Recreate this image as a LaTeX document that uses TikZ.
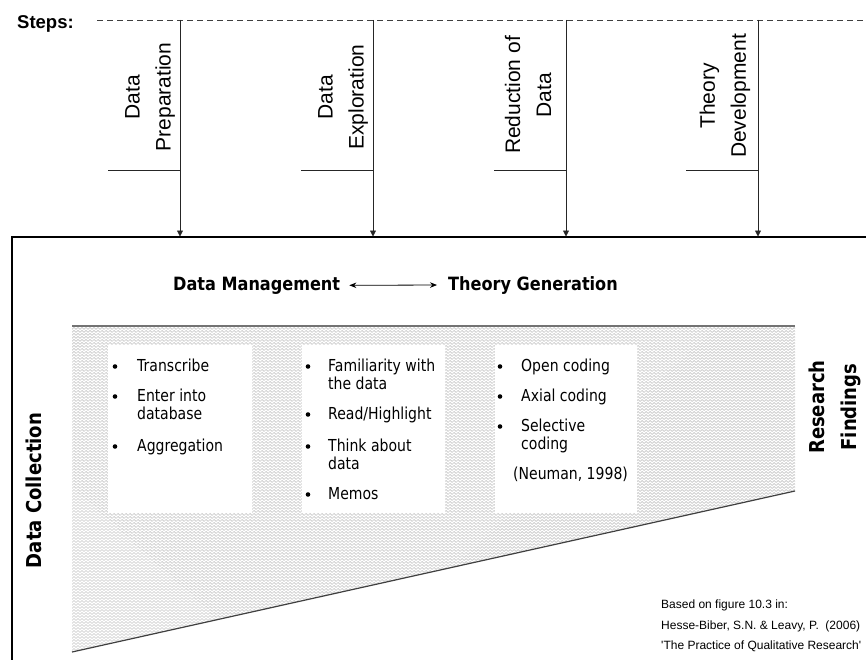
\documentclass[tikz,border=0pt]{standalone}
\usepackage{fontspec}
\newfontfamily\arialf{Liberation Sans}
\newfontfamily\tahf[FakeStretch=0.85]{DejaVu Sans}
\newfontfamily\tahbf[FakeStretch=0.88]{DejaVu Sans}
\usetikzlibrary{arrows.meta,patterns}
\pgfdeclarepatternformonly{zigzag}{\pgfpoint{-1pt}{-1pt}}{\pgfpoint{5pt}{4pt}}{\pgfpoint{4pt}{3pt}}{%
  \pgfsetlinewidth{0.7pt}%
  \pgfpathmoveto{\pgfpoint{0pt}{0.5pt}}%
  \pgfpathlineto{\pgfpoint{2pt}{2.5pt}}%
  \pgfpathlineto{\pgfpoint{4pt}{0.5pt}}%
  \pgfusepath{stroke}}
\begin{document}
\begin{tikzpicture}[x=1pt,y=-1pt,
  stepline/.style={draw=black!85, line width=0.8pt},
  arr/.style={-{Triangle[length=6pt,width=6pt]}},
  bul/.style={circle, fill=black, inner sep=0pt, minimum size=4.6pt},
  item/.style={anchor=base west, inner sep=0pt, font=\tahf\fontsize{16.5}{18}\selectfont},
  steplabel/.style={rotate=90, align=center, inner sep=0pt, font=\arialf\fontsize{21}{31}\selectfont},
  head/.style={anchor=base west, inner sep=0pt, font=\tahbf\bfseries\fontsize{18.3}{20}\selectfont},
  side/.style={rotate=90, align=center, inner sep=0pt, font=\tahbf\bfseries\fontsize{20.5}{32}\selectfont},
  credit/.style={anchor=base west, inner sep=0pt, font=\arialf\fontsize{12}{14}\selectfont},
  whitebox/.style={fill=white, draw=none}]
\useasboundingbox (0,0) rectangle (866,660);

% hatched wedge
\coordinate (h1) at (72,326);
\coordinate (h2) at (795,326);
\coordinate (h3) at (795,491);
\coordinate (h4) at (72,652);
\fill[pattern=zigzag, pattern color=black!22] (h1)--(h2)--(h3)--(h4)--cycle;
\draw[black!55, line width=1.2pt] (h1)--(h2);
\draw[black!75, line width=1.2pt] (h4)--(h3);

% white boxes
\path[whitebox] (108,345) rectangle (252,513);
\path[whitebox] (302,345) rectangle (445,513);
\path[whitebox] (495,345) rectangle (637,513);

% frame
\coordinate (f1) at (12,660);
\coordinate (f2) at (12,237);
\coordinate (f3) at (866,237);
\draw[line width=1.2pt] (f1)--(f2)--(f3);

% steps
\node[anchor=base west, inner sep=0pt, font=\arialf\bfseries\fontsize{18.5}{20}\selectfont] (steps) at (17,28.5) {Steps:};
\coordinate (d0) at (97,20);
\coordinate (d1) at (866,20);
\draw[black!75, line width=0.8pt, dash pattern=on 6pt off 4pt] (d0)--(d1);

\foreach \i/\x in {1/180,2/373,3/566,4/758}{
  \coordinate (t\i) at (\x,20);
  \coordinate (b\i) at (\x,236.5);
  \coordinate (k\i) at (\x-72,170);
  \coordinate (j\i) at (\x,170);
  \draw[stepline, arr] (t\i)--(b\i);
  \draw[stepline] (k\i)--(j\i);
}

\node[steplabel] (lab1) at (150,97) {Data\\Preparation};
\node[steplabel] (lab2) at (343,97) {Data\\Exploration};
\node[steplabel] (lab3) at (528,95) {Reduction of\\Data};
\node[steplabel] (lab4) at (725,96) {Theory\\Development};

% headings
\node[head] (dm) at (173,290) {Data Management};
\node[head] (tg) at (448,290) {Theory Generation};
\draw[{Stealth[length=7pt,width=5.5pt]}-{Stealth[length=7pt,width=5.5pt]}, line width=0.8pt] ([xshift=9pt]dm.east) -- ([xshift=-11pt]tg.west);

\node[side] (dc) at (34,490.5) {Data Collection};
\node[side] (rf) at (834.5,407) {Research\\Findings};

% box 1
\node[bul] (b11) at (115,366.5) {};
\node[item] (i11) at (137,371) {Transcribe};
\node[bul] (b12) at (115,396.5) {};
\node[item] (i12) at (137,401) {Enter into};
\node[item] (i12b) at (137,419) {database};
\node[bul] (b13) at (115,446.5) {};
\node[item] (i13) at (137,451) {Aggregation};

% box 2
\node[bul] (b21) at (308,366.5) {};
\node[item] (i21) at (328,371) {Familiarity with};
\node[item] (i21b) at (328,389) {the data};
\node[bul] (b22) at (308,414.5) {};
\node[item] (i22) at (328,419) {Read/Highlight};
\node[bul] (b23) at (308,446.5) {};
\node[item] (i23) at (328,451) {Think about};
\node[item] (i23b) at (328,469) {data};
\node[bul] (b24) at (308,494.5) {};
\node[item] (i24) at (328,499) {Memos};

% box 3
\node[bul] (b31) at (500,366.5) {};
\node[item] (i31) at (521,371) {Open coding};
\node[bul] (b32) at (500,396.5) {};
\node[item] (i32) at (521,401) {Axial coding};
\node[bul] (b33) at (500,426.5) {};
\node[item] (i33) at (521,431) {Selective};
\node[item] (i33b) at (521,449) {coding};
\node[item] (neu) at (513,479) {(Neuman, 1998)};

% credits
\node[credit] (c1) at (661,608) {Based on figure 10.3 in:};
\node[credit] (c2) at (661,629) {Hesse-Biber, S.N. \& Leavy, P.\ \ (2006)};
\node[credit] (c3) at (661,649) {'The Practice of Qualitative Research'};
\end{tikzpicture}
\end{document}
